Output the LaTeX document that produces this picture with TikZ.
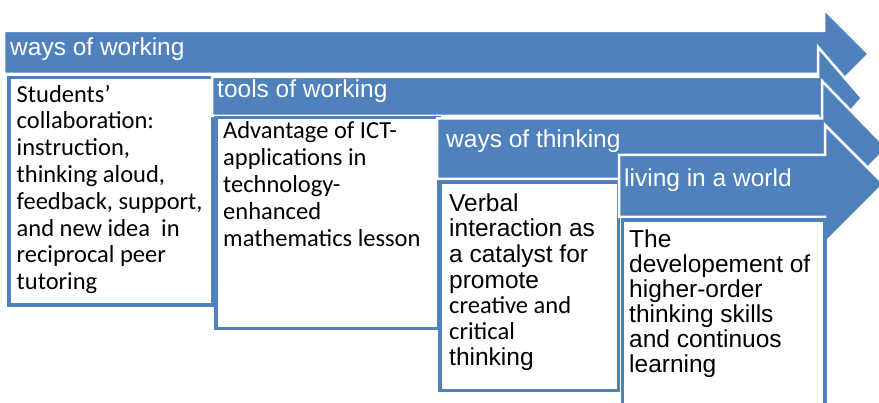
\documentclass[tikz,border=0pt]{standalone}
\usepackage{fontspec}
\setmainfont{Liberation Sans}
\newfontfamily\calibfont{Carlito}
\definecolor{accentblue}{HTML}{4F81BD}
\tikzset{
  band/.style={fill=accentblue, draw=white, line width=2.5pt, line join=miter},
  card/.style={fill=white, draw=accentblue, line width=3.5pt},
  headlabel/.style={text=white, anchor=base west, inner sep=0pt,
    font=\fontsize{24.5}{26}\selectfont},
  bodytext/.style={anchor=north west, inner sep=0pt, align=left, text=black},
}
% first-line strut: baseline sits 20pt below the node's top edge
\newcommand{\firstline}{\rule{0pt}{20pt}}
\begin{document}
\begin{tikzpicture}[x=1pt, y=-1pt]
  \useasboundingbox (0,0) rectangle (879,403);
  \clip (0,0) rectangle (879,403);

  % stage 1: ways of working
  \draw[band] (4,31) -- (824,31) -- (824,9) -- (869,54) -- (824,99)
              -- (824,74) -- (4,74) -- cycle;
  \draw[card] (8.75,77.5) rectangle (213,305);
  \node[headlabel] (h1) at (10,56) {ways of working};
  \node[bodytext, font=\calibfont\fontsize{24.5}{26.8}\selectfont] (b1) at (16.5,82)
    {\firstline Students’\\collaboration:\\instruction,\\thinking aloud,\\feedback, support,\\and new idea\ \ in\\reciprocal peer\\tutoring};

  % stage 2: tools of working
  \draw[band] (212,77) -- (818,77) -- (818,47) -- (862,98) -- (818,149)
              -- (818,116) -- (212,116) -- cycle;
  \draw[card] (216,117.5) rectangle (439,328.5);
  \node[headlabel] (h2) at (217,98) {tools of working};
  \node[bodytext, font=\calibfont\fontsize{24.5}{27}\selectfont] (b2) at (223,118)
    {\firstline Advantage of ICT-\\applications in\\technology-\\enhanced\\mathematics lesson};

  % stage 3: ways of thinking
  \draw[band] (437,118.5) -- (822,118.5) -- (822,81) -- (887,148) -- (822,215)
              -- (822,179) -- (437,179) -- cycle;
  \draw[card] (440,182) rectangle (618.5,390.5);
  \node[headlabel] (h3) at (446,148) {ways of thinking};
  \node[bodytext, font=\fontsize{24.5}{25.7}\selectfont] (b3) at (449,191)
    {\firstline Verbal\\interaction as\\a catalyst for\\promote\\{\calibfont creative and}\\{\calibfont critical}\\thinking};

  % stage 4: living in a world
  \draw[band] (619,155) -- (825,155) -- (825,125) -- (884,184) -- (825,243)
              -- (825,217) -- (619,217) -- cycle;
  \draw[card] (622.5,220) rectangle (825,415);
  \node[headlabel] (h4) at (624,187) {living in a world};
  \node[bodytext, font=\fontsize{24.5}{25}\selectfont] (b4) at (629,227)
    {\firstline The\\developement of\\higher-order\\thinking skills\\and continuos\\learning};
\end{tikzpicture}
\end{document}
